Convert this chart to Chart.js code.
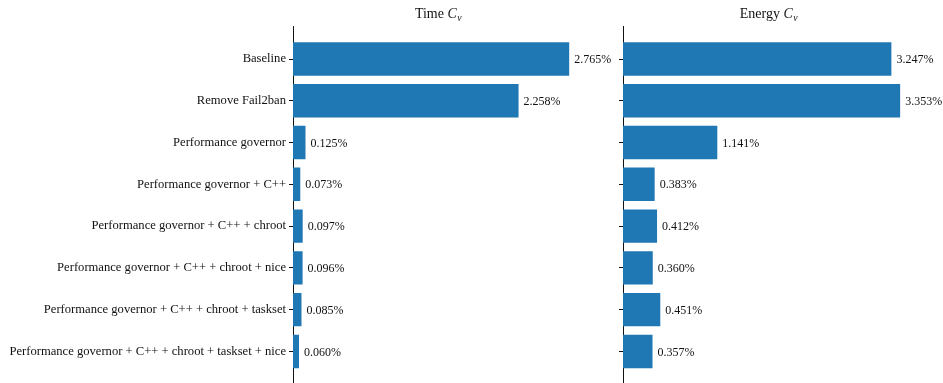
<!DOCTYPE html>
<html>
<head>
<meta charset="utf-8">
<script src="https://cdn.jsdelivr.net/npm/chart.js@4/dist/chart.umd.min.js"></script>
<style>
  html, body { margin: 0; padding: 0; background: #fff; }
  body { width: 943px; height: 383px; overflow: hidden; position: relative; }
  .panel { position: absolute; top: 0; }
  #wrap-time   { left: 0;     width: 620px; height: 395px; }
  #wrap-energy { left: 600px; width: 343px; height: 395px; }
</style>
</head>
<body>
<div class="panel" id="wrap-time"><canvas id="chart-time"></canvas></div>
<div class="panel" id="wrap-energy"><canvas id="chart-energy"></canvas></div>

<script>
'use strict';

// ── Data ──────────────────────────────────────────────────────────────────────
const configs = [
    'Baseline',
    'Remove Fail2ban',
    'Performance governor',
    'Performance governor + C++',
    'Performance governor + C++ + chroot',
    'Performance governor + C++ + chroot + nice',
    'Performance governor + C++ + chroot + taskset',
    'Performance governor + C++ + chroot + taskset + nice',
];
const timeCv   = [2.765, 2.258, 0.125, 0.073, 0.097, 0.096, 0.085, 0.060];
const energyCv = [3.247, 3.353, 1.141, 0.383, 0.412, 0.360, 0.451, 0.357];

// ── Style ─────────────────────────────────────────────────────────────────────
const FONT_FAMILY = '"Liberation Serif", "DejaVu Serif", serif';
const TICK_SIZE   = 12.6;
const VALUE_SIZE  = 12;
const BAR_COLOR   = '#1f77b4';
const INK         = '#111';

// Title with italic C and subscript v, centred over the plot area
const titlePlugin = {
    id: 'cvTitle',
    afterDraw(chart, args, opts) {
        const { ctx, chartArea } = chart;
        const size = 14;
        const main = opts.text + ' ';
        ctx.save();
        ctx.fillStyle = INK;
        ctx.textBaseline = 'alphabetic';
        ctx.font = `${size}px ${FONT_FAMILY}`;
        const w1 = ctx.measureText(main).width;
        ctx.font = `italic ${size}px ${FONT_FAMILY}`;
        const w2 = ctx.measureText('C').width;
        ctx.font = `italic ${size * 0.7}px ${FONT_FAMILY}`;
        const w3 = ctx.measureText('v').width;
        const total = w1 + w2 + w3;
        let x = (chartArea.left + chartArea.right) / 2 - total / 2;
        const y = 18;
        ctx.textAlign = 'left';
        ctx.font = `${size}px ${FONT_FAMILY}`;
        ctx.fillText(main, x, y);
        x += w1;
        ctx.font = `italic ${size}px ${FONT_FAMILY}`;
        ctx.fillText('C', x, y);
        x += w2 + 0.5;
        ctx.font = `italic ${size * 0.7}px ${FONT_FAMILY}`;
        ctx.fillText('v', x, y + 2.5);
        ctx.restore();
    }
};

// Percentage text at the end of each bar
const valueLabels = {
    id: 'valueLabels',
    afterDatasetsDraw(chart) {
        const { ctx } = chart;
        const meta = chart.getDatasetMeta(0);
        const ds = chart.data.datasets[0];
        ctx.save();
        ctx.font = `${VALUE_SIZE}px ${FONT_FAMILY}`;
        ctx.fillStyle = INK;
        ctx.textAlign = 'left';
        ctx.textBaseline = 'middle';
        meta.data.forEach((bar, i) => {
            ctx.fillText(`${ds.data[i].x.toFixed(3)}%`, bar.x + 5, bar.y + 1);
        });
        ctx.restore();
    }
};

function buildPanel(canvasId, values, title, axisWidth, padRight, showLabels) {
    const ctx = document.getElementById(canvasId).getContext('2d');
    return new Chart(ctx, {
        type: 'bar',
        data: {
            datasets: [{
                data: values.map((v, i) => ({ x: v, y: i })),
                backgroundColor: BAR_COLOR,
                borderWidth: 0,
                categoryPercentage: 1.0,
                barPercentage: 0.8,
            }]
        },
        options: {
            indexAxis: 'y',
            responsive: true,
            maintainAspectRatio: false,
            animation: false,
            layout: { padding: { top: 26, bottom: 2, left: 0, right: padRight } },
            scales: {
                x: {
                    type: 'linear',
                    display: false,
                    min: 0,
                    max: Math.max(...values) * 1.05,
                },
                y: {
                    type: 'linear',
                    reverse: true,
                    offset: false,
                    min: -0.79,
                    max: configs.length - 1 + 0.79,
                    afterFit: scale => { scale.width = axisWidth; },
                    border: { display: true, color: INK, width: 1 },
                    grid: {
                        offset: false,
                        drawOnChartArea: false,
                        drawTicks: true,
                        tickLength: 4,
                        color: INK,
                        lineWidth: 1,
                    },
                    ticks: {
                        stepSize: 1,
                        includeBounds: false,
                        autoSkip: false,
                        padding: 3,
                        color: INK,
                        font: { family: FONT_FAMILY, size: TICK_SIZE },
                        callback: v => showLabels ? configs[v] : '',
                    }
                }
            },
            plugins: {
                legend: { display: false },
                tooltip: { enabled: false },
                cvTitle: { text: title },
            }
        },
        plugins: [titlePlugin, valueLabels]
    });
}

buildPanel('chart-time',   timeCv,   'Time',   293, 37, true);
buildPanel('chart-energy', energyCv, 'Energy', 23,  29, false);
</script>
</body>
</html>
